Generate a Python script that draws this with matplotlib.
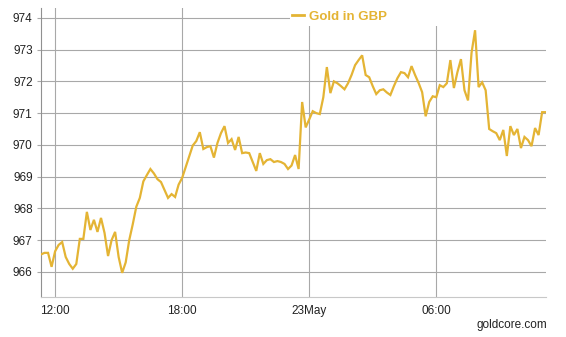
import numpy as np
import pandas as pd
import matplotlib
matplotlib.use('Agg')
import matplotlib.pyplot as plt
import matplotlib.dates as mdates
from matplotlib.patches import Rectangle
from matplotlib.lines import Line2D

plt.rcParams['font.family'] = ['Liberation Sans', 'DejaVu Sans']

# 10 minute gold price in GBP, 22 May 11:20 -> 23 May 11:10
start_time = '2017-05-22 11:20'
gold_gbp = [
    966.55, 966.60, 966.60, 966.16, 966.65, 966.85, 966.94, 966.47, 966.25, 966.10,
    966.25, 967.04, 967.04, 967.89, 967.32, 967.64, 967.26, 967.70, 967.23, 966.50,
    967.00, 967.26, 966.47, 965.97, 966.30, 967.00, 967.50, 968.05, 968.33, 968.85,
    969.05, 969.24, 969.10, 968.92, 968.83, 968.58, 968.33, 968.45, 968.36, 968.75,
    968.96, 969.30, 969.65, 969.98, 970.12, 970.40, 969.87, 969.93, 969.96, 969.60,
    970.06, 970.37, 970.59, 970.06, 970.18, 969.84, 970.25, 969.74, 969.76, 969.74,
    969.46, 969.18, 969.74, 969.40, 969.52, 969.55, 969.46, 969.49, 969.46, 969.40,
    969.24, 969.35, 969.68, 969.24, 971.35, 970.55, 970.80, 971.06, 971.00, 970.97,
    971.50, 972.45, 971.63, 972.00, 971.94, 971.85, 971.75, 971.94, 972.20, 972.51,
    972.67, 972.82, 972.20, 972.13, 971.85, 971.60, 971.72, 971.75, 971.65, 971.57,
    971.85, 972.10, 972.29, 972.26, 972.13, 972.48, 972.20, 971.95, 971.66, 970.90,
    971.35, 971.53, 971.50, 971.88, 971.82, 971.94, 972.67, 971.79, 972.29, 972.70,
    971.72, 971.40, 972.90, 973.61, 971.82, 971.97, 971.72, 970.50, 970.43, 970.37,
    970.15, 970.47, 969.65, 970.59, 970.31, 970.50, 969.90, 970.25, 970.15, 969.96,
    970.53, 970.31, 971.03, 971.03,
]
times = pd.date_range(start_time, periods=len(gold_gbp), freq='10min')

tick_times = pd.to_datetime(['2017-05-22 12:00', '2017-05-22 18:00',
                             '2017-05-23 00:00', '2017-05-23 06:00'])
tick_labels = ['12:00', '18:00', '23May', '06:00']
y_ticks = [966, 967, 968, 969, 970, 971, 972, 973, 974]

gold = '#E4B434'
grid_grey = '#A8A8A8'

fig = plt.figure(figsize=(5.66, 3.37), dpi=100)
ax = fig.add_axes([41 / 566, 1 - 297 / 337, 505 / 566, 289 / 337])

ax.plot(times, gold_gbp, color=gold, linewidth=1.6, zorder=3,
        solid_joinstyle='miter')

ax.set_xlim(times[0], times[-1] + pd.Timedelta('1min'))
ax.set_ylim(965.21, 974.31)

ax.set_yticks(y_ticks)
ax.set_yticklabels([str(v) for v in y_ticks])
ax.set_xticks(mdates.date2num(tick_times))
ax.set_xticklabels(tick_labels)

ax.grid(True, color=grid_grey, linewidth=0.8)
ax.set_axisbelow(True)

for side in ['top', 'right']:
    ax.spines[side].set_visible(False)
ax.spines['left'].set_color('#909090')
ax.spines['left'].set_linewidth(0.8)
ax.spines['bottom'].set_color('#C8C8C8')
ax.spines['bottom'].set_linewidth(0.8)

ax.tick_params(axis='y', length=3, width=0.8, color=grid_grey, pad=3,
               labelsize=8.5, labelcolor='#222222')
ax.tick_params(axis='x', length=0, pad=6, labelsize=8.5, labelcolor='#222222')

# white strip behind the legend hides the top grid
fig.patches.append(Rectangle((290 / 566, 1 - 25.5 / 337), 1, 1,
                             transform=fig.transFigure, facecolor='white',
                             edgecolor='none', zorder=1))

handle = Line2D([], [], color=gold, linewidth=2)
fig.legend([handle], ['Gold in GBP'], loc='center left',
           bbox_to_anchor=(292 / 566, 1 - 17 / 337), frameon=False,
           handlelength=0.9, handletextpad=0.4, borderpad=0, borderaxespad=0,
           prop={'weight': 'bold', 'size': 9.5}, labelcolor=gold)

fig.text(547 / 566, 1 - 325 / 337, 'goldcore.com', ha='right', va='center',
         fontsize=8.5, color='#222222')

fig.savefig('out.png', dpi=100)
